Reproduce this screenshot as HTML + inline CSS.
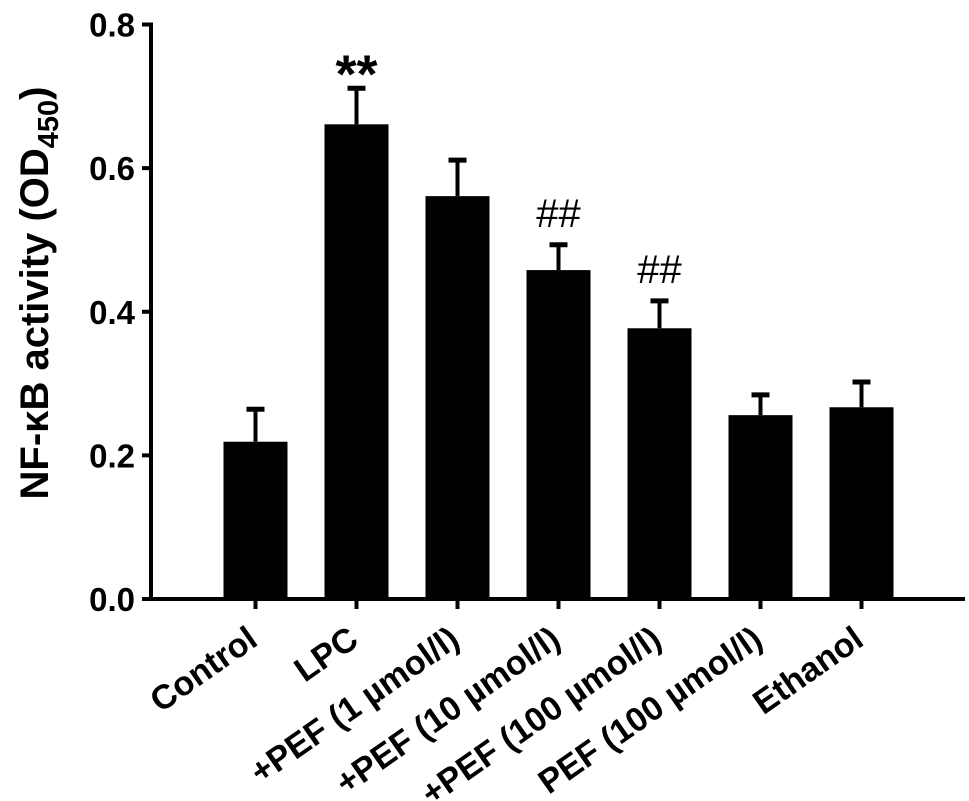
<!DOCTYPE html>
<html><head><meta charset="utf-8"><style>
html,body{margin:0;padding:0;background:#fff;}
svg{display:block;font-family:"Liberation Sans",Arial,sans-serif;font-weight:bold;}
</style></head><body>
<svg id="chart" width="969" height="801" viewBox="0 0 969 801" xmlns="http://www.w3.org/2000/svg">
<g id="axes"></g>
<g id="bars"></g>
<g id="labels"></g>
<text transform="translate(48,293) rotate(-90)" text-anchor="middle" font-size="40">NF-κB activity (OD<tspan font-size="29" dy="10">450</tspan><tspan dy="-10">)</tspan></text>
</svg>
<script>
const categories = ["Control","LPC","+PEF (1 µmol/l)","+PEF (10 µmol/l)","+PEF (100 µmol/l)","PEF (100 µmol/l)","Ethanol"];
const means = [0.219,0.661,0.561,0.458,0.377,0.256,0.267];
const errors = [0.048,0.053,0.053,0.038,0.041,0.031,0.038];
const marks = ["","**","","##","##","",""];
const yTicks = [0,0.2,0.4,0.6,0.8];
const yTickLabels = ["0.0","0.2","0.4","0.6","0.8"];

const NS="http://www.w3.org/2000/svg";
const y0=599, yTop=24.5, vmax=0.8;
const yScale=v=>y0-(v/vmax)*(y0-yTop);
const x0=255.5, step=101, bw=64;
const xScale=i=>x0+i*step;
function mk(tag,attrs,parent){const e=document.createElementNS(NS,tag);for(const k in attrs)e.setAttribute(k,attrs[k]);parent.appendChild(e);return e;}
const axes=document.getElementById('axes'),bars=document.getElementById('bars'),labels=document.getElementById('labels');

let l=mk('line',{x1:151,y1:y0,x2:965,y2:y0,stroke:'#000','stroke-width':4},axes);


l=mk('line',{x1:151,y1:yTop-2,x2:151,y2:y0+2,stroke:'#000','stroke-width':4},axes);



yTicks.forEach((v,i)=>{
  const y=yScale(v);
  const t=mk('line',{x1:142,y1:y,x2:152,y2:y,stroke:'#000','stroke-width':4},axes);
  
  
  const tx=mk('text',{x:135,y:y+12,'text-anchor':'end','font-size':33},axes);
  tx.textContent=yTickLabels[i];
  
  
});

categories.forEach((c,i)=>{
  const cx=xScale(i), top=yScale(means[i]), et=yScale(means[i]+errors[i]);
  const r=mk('rect',{x:cx-bw/2,y:top,width:bw,height:y0-top,fill:'#000'},bars);
  
  
  const e=mk('line',{x1:cx,y1:et,x2:cx,y2:top,stroke:'#000','stroke-width':4},bars);
  
  
  const cap=mk('line',{x1:cx-9,y1:et+2,x2:cx+9,y2:et+2,stroke:'#000','stroke-width':5},bars);
  
  
  const tk=mk('line',{x1:cx,y1:y0,x2:cx,y2:y0+10,stroke:'#000','stroke-width':4},axes);
  
  
  const lab=mk('text',{transform:`translate(${cx+4},644) rotate(-35)`,'text-anchor':'end','font-size':34},labels);
  lab.textContent=c;
  
  
  if(marks[i]){
    const star=marks[i]=="**";
    const m=mk('text',{x:cx,y:star?et-6:et-16,'text-anchor':'middle','font-size':star?54:40,'font-weight':star?'bold':'normal'},labels);
    if(star) m.setAttribute('y',et+6);
    m.textContent=marks[i];
    
    
  }
});
</script>
</body></html>
